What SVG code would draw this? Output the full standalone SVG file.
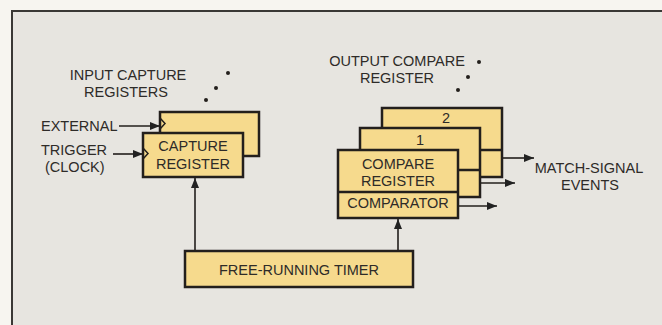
<svg xmlns="http://www.w3.org/2000/svg" width="662" height="325" viewBox="0 0 662 325">
<defs>
<marker id="ah" viewBox="0 0 10 8" refX="10" refY="4" markerWidth="10" markerHeight="8" markerUnits="userSpaceOnUse" orient="auto">
<path d="M0,0 L10,4 L0,8 Z" fill="#222"/>
</marker>
</defs>
<style>
.box{fill:#f6da8d;stroke:#231f1c;stroke-width:2.5}
.div{stroke:#231f1c;stroke-width:2.5}
.clk{fill:none;stroke:#231f1c;stroke-width:1.5}
.t{font-family:"Liberation Sans",Arial,sans-serif;font-size:14.5px;fill:#2e2b28}
.c{text-anchor:middle}
.ln{stroke:#231f1c;stroke-width:1.6;fill:none}
.dot{fill:#231f1c}
</style>
<rect x="0" y="0" width="662" height="325" fill="#f7f5f0"/>
<rect x="12" y="11" width="660" height="330" fill="#e7e5e0" stroke="#3a3835" stroke-width="2"/>

<g id="labels">
<text class="t c" x="128" y="80">INPUT CAPTURE</text>
<text class="t c" x="126" y="97">REGISTERS</text>
<text class="t" x="41" y="131">EXTERNAL</text>
<text class="t" x="41" y="155">TRIGGER</text>
<text class="t" x="45" y="172">(CLOCK)</text>
<text class="t c" x="397" y="66">OUTPUT COMPARE</text>
<text class="t c" x="397" y="83">REGISTER</text>
<text class="t c" x="589" y="173">MATCH-SIGNAL</text>
<text class="t c" x="590" y="190">EVENTS</text>
<circle class="dot" cx="228" cy="73" r="2"/>
<circle class="dot" cx="216" cy="88" r="2"/>
<circle class="dot" cx="206" cy="100" r="2"/>
<circle class="dot" cx="479" cy="62" r="2"/>
<circle class="dot" cx="468" cy="77" r="2"/>
<circle class="dot" cx="458" cy="90" r="2"/>
</g>

<g id="capture-register-back">
<rect class="box" x="160" y="112" width="99" height="44"/>
<path class="clk" d="M160,118 L165,123.5 L160,129"/>
</g>
<g id="capture-register">
<rect class="box" x="143" y="133" width="100" height="44"/>
<path class="clk" d="M143,148 L148,153.5 L143,159"/>
<text class="t c" x="193" y="151">CAPTURE</text>
<text class="t c" x="193" y="169">REGISTER</text>
</g>

<g id="compare-register-2">
<rect class="box" x="382" y="108" width="120" height="69"/>
<line class="div" x1="382" y1="150" x2="502" y2="150"/>
<text class="t c" x="446" y="123">2</text>
</g>
<g id="compare-register-1">
<rect class="box" x="360" y="128" width="120" height="69"/>
<line class="div" x1="360" y1="170" x2="480" y2="170"/>
<text class="t c" x="420" y="145">1</text>
</g>
<g id="compare-register">
<rect class="box" x="338" y="150" width="120" height="68"/>
<line class="div" x1="338" y1="192" x2="458" y2="192"/>
<text class="t c" x="398" y="169">COMPARE</text>
<text class="t c" x="398" y="186">REGISTER</text>
<text class="t c" x="398" y="208">COMPARATOR</text>
</g>

<g id="timer">
<rect class="box" x="185" y="251" width="228" height="36"/>
<text class="t c" x="299" y="275">FREE-RUNNING TIMER</text>
</g>

<g id="connectors">
<line class="ln" x1="119" y1="126" x2="160" y2="126" marker-end="url(#ah)"/>
<line class="ln" x1="113" y1="154" x2="143" y2="154" marker-end="url(#ah)"/>
<line class="ln" x1="195" y1="250" x2="195" y2="178" marker-end="url(#ah)"/>
<line class="ln" x1="398" y1="250" x2="398" y2="219" marker-end="url(#ah)"/>
<line class="ln" x1="503" y1="158" x2="534" y2="158" marker-end="url(#ah)"/>
<line class="ln" x1="481" y1="183" x2="515" y2="183" marker-end="url(#ah)"/>
<line class="ln" x1="459" y1="206" x2="497" y2="206" marker-end="url(#ah)"/>
</g>
</svg>
